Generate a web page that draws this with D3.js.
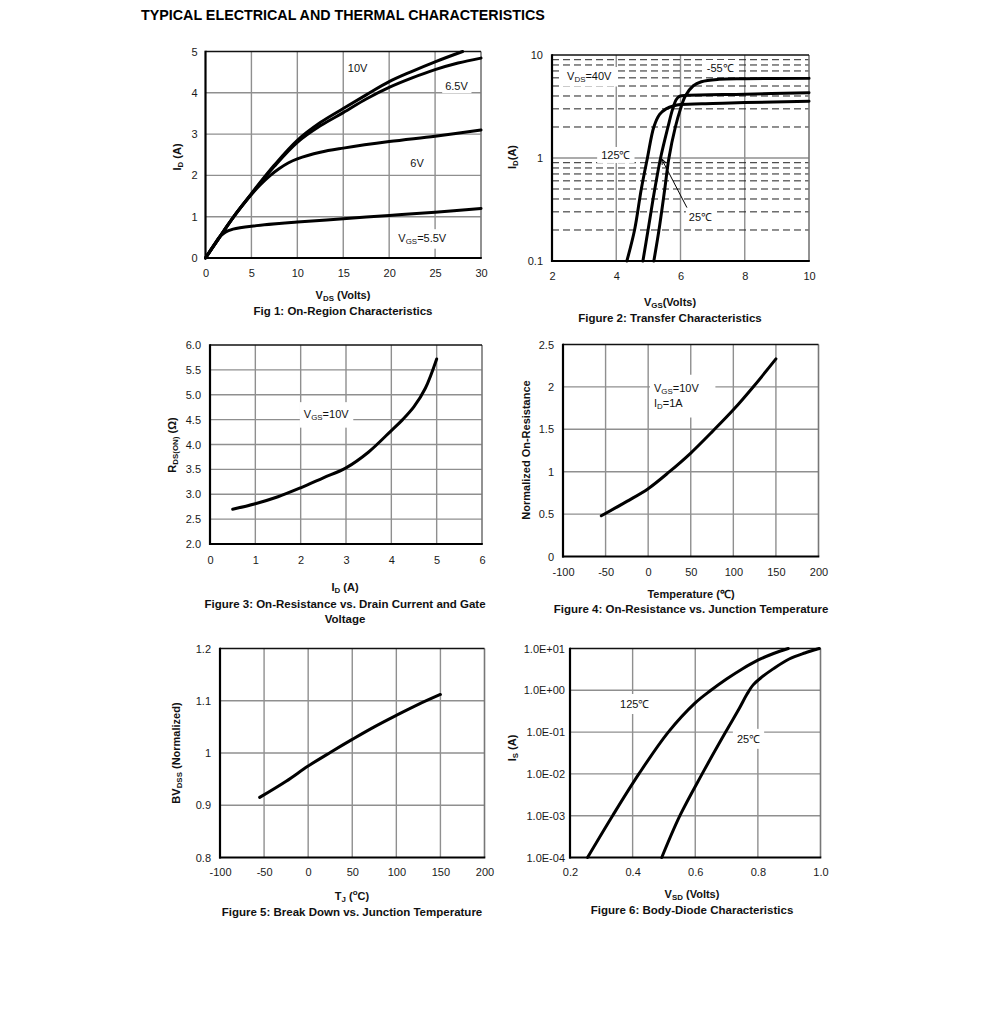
<!DOCTYPE html>
<html><head><meta charset="utf-8">
<script src="https://cdn.jsdelivr.net/npm/d3@7"></script>
<style>body{margin:0;background:#fff}svg{display:block}text{font-family:"Liberation Sans",Arial,Helvetica,sans-serif}</style>
</head><body>
<script>
// ---------- DATA ----------
// Fig 1: On-Region Characteristics  [VDS, ID]
const fig1Vgs10  = [[0,0],[1,0.33],[2,0.66],[3,0.98],[5,1.56],[7.5,2.25],[10,2.85],[12.5,3.28],[15,3.62],[17.5,3.95],[20,4.27],[22.5,4.52],[25,4.75],[28,5.0]];
const fig1Vgs6_5 = [[0,0],[1,0.33],[2,0.66],[3,0.98],[5,1.55],[7.5,2.22],[10,2.8],[12.5,3.2],[15,3.52],[17.5,3.85],[20,4.13],[22.5,4.36],[25,4.56],[27.5,4.72],[30,4.84]];
const fig1Vgs6   = [[0,0],[1,0.33],[2,0.66],[3,0.98],[4,1.27],[5,1.54],[6,1.78],[7,1.99],[8,2.16],[9,2.3],[10,2.4],[12.5,2.56],[15,2.66],[20,2.82],[25,2.95],[30,3.1]];
const fig1Vgs5_5 = [[0,0],[0.5,0.17],[1,0.34],[1.5,0.5],[2,0.6],[2.5,0.66],[3,0.7],[5,0.77],[10,0.87],[15,0.95],[20,1.03],[25,1.11],[30,1.2]];
const fig1XTicks = [0,5,10,15,20,25,30];
const fig1YTicks = [0,1,2,3,4,5];

// Fig 2: Transfer Characteristics  [VGS, ID]
const fig2T125 = [[4.33,0.1],[4.57,0.2],[4.78,0.5],[4.97,1.0],[5.17,2.0],[5.35,2.65],[5.55,3.0],[5.8,3.22],[6,3.3],[7,3.38],[8,3.45],[10,3.56]];
const fig2T25  = [[4.83,0.1],[4.99,0.2],[5.2,0.5],[5.38,1.0],[5.61,2.0],[5.75,2.95],[5.87,3.7],[5.98,3.98],[6.2,4.06],[8,4.17],[10,4.3]];
const fig2Tm55 = [[5.17,0.1],[5.33,0.2],[5.51,0.5],[5.64,1.0],[5.84,2.0],[6.0,3.0],[6.15,4.0],[6.39,5.0],[6.65,5.5],[7.2,5.8],[8,5.88],[10,5.93]];
const fig2XTicks = [2,4,6,8,10];
const fig2YTicks = [0.1,1,10];
const fig2Minor  = [0.2,0.3,0.4,0.5,0.6,0.7,0.8,0.9,2,3,4,5,6,7,8,9];

// Fig 3: RDS(ON) vs ID  [ID, R]
const fig3Id = [0.5,1,1.5,2,2.5,3,3.5,4,4.25,4.5,4.75,5];
const fig3R  = [2.70,2.81,2.95,3.13,3.33,3.53,3.85,4.28,4.5,4.76,5.13,5.72];
const fig3XTicks = [0,1,2,3,4,5,6];
const fig3YTicks = [2.0,2.5,3.0,3.5,4.0,4.5,5.0,5.5,6.0];

// Fig 4: Normalized On-Resistance vs Temperature
const fig4T = [-55,-25,0,25,50,75,100,125,150];
const fig4R = [0.48,0.65,0.8,1.0,1.22,1.47,1.73,2.02,2.33];
const fig4XTicks = [-100,-50,0,50,100,150,200];
const fig4YTicks = [0,0.5,1,1.5,2,2.5];

// Fig 5: Breakdown vs Junction Temperature
const fig5T  = [-55,-25,0,25,50,75,100,125,150];
const fig5BV = [0.915,0.946,0.975,1.001,1.026,1.05,1.072,1.093,1.112];
const fig5XTicks = [-100,-50,0,50,100,150,200];
const fig5YTicks = [0.8,0.9,1,1.1,1.2];

// Fig 6: Body-Diode Characteristics  [VSD, IS]
const fig6T125 = [[0.256,1e-4],[0.336,1e-3],[0.42,1e-2],[0.514,1e-1],[0.6,0.5],[0.65,1],[0.7,1.86],[0.75,3.24],[0.8,5.25],[0.85,7.6],[0.897,10]];
const fig6T25  = [[0.493,1e-4],[0.551,1e-3],[0.622,1e-2],[0.697,1e-1],[0.74,0.36],[0.765,0.8],[0.785,1.35],[0.81,2.0],[0.85,3.3],[0.9,5.6],[0.95,7.8],[0.996,10]];
const fig6XTicks = [0.2,0.4,0.6,0.8,1.0];
const fig6YTicks = [1e-4,1e-3,1e-2,1e-1,1,10];
const fig6YLabels = ["1.0E-04","1.0E-03","1.0E-02","1.0E-01","1.0E+00","1.0E+01"];

// ---------- DRAWING ----------
const svg = d3.select("body").append("svg").attr("width",991).attr("height",1023);
const GRID = "#8f8f8f";

function rich(g, x, y, parts, o={}) {
  const size = o.size || 11;
  const t = g.append("text").attr("x",x).attr("y",y)
    .attr("text-anchor", o.anchor || "middle")
    .attr("dominant-baseline","central")
    .attr("font-size", size).attr("fill", o.fill || "#111");
  if (o.bold) t.attr("font-weight","bold");
  if (o.rotate) t.attr("transform", `rotate(-90,${x},${y})`);
  let shift = 0;
  parts.forEach(p => {
    const [s,k] = Array.isArray(p) ? p : [p,null];
    const target = k==="sub" ? 3 : k==="sup" ? -4 : 0;
    const ts = t.append("tspan").text(s).attr("dy", target - shift);
    if (k) ts.attr("font-size", size*0.72);
    shift = target;
  });
  return t;
}
function boxed(g, x, y, parts, o={}) {
  const t = rich(g, x, y, parts, Object.assign({anchor:"start"}, o));
  const b = t.node().getBBox();
  const pad = o.pad || [4,2];
  g.insert("rect", () => t.node())
    .attr("x", b.x - pad[0]).attr("y", b.y - pad[1])
    .attr("width", b.width + 2*pad[0]).attr("height", b.height + 2*pad[1])
    .attr("fill","#fff");
  return t;
}

function panel(c) {
  const g = svg.append("g");
  const x = d3.scaleLinear().domain(c.xd).range([c.x0, c.x1]);
  const y = (c.log ? d3.scaleLog() : d3.scaleLinear()).domain(c.yd).range([c.y1, c.y0]);
  g.selectAll(".gx").data(c.gridX).join("line")
    .attr("x1", d=>x(d)).attr("x2", d=>x(d)).attr("y1", c.y0).attr("y2", c.y1)
    .attr("stroke", GRID).attr("stroke-width", 1.4);
  g.selectAll(".gy").data(c.gridY).join("line")
    .attr("y1", d=>y(d)).attr("y2", d=>y(d)).attr("x1", c.x0).attr("x2", c.x1)
    .attr("stroke", GRID).attr("stroke-width", 1.4);
  if (c.dashY) g.selectAll(".dy").data(c.dashY).join("line")
    .attr("y1", d=>y(d)).attr("y2", d=>y(d)).attr("x1", c.x0).attr("x2", c.x1)
    .attr("stroke", "#222").attr("stroke-width", 1).attr("stroke-dasharray","7,4");
  g.append("line").attr("x1",c.x1).attr("x2",c.x1).attr("y1",c.y0).attr("y2",c.y1).attr("stroke","#777").attr("stroke-width",1.6);
  g.append("line").attr("x1",c.x0).attr("x2",c.x1).attr("y1",c.y0).attr("y2",c.y0).attr("stroke","#111").attr("stroke-width",1.6);
  g.append("line").attr("x1",c.x0).attr("x2",c.x0).attr("y1",c.y0-0.8).attr("y2",c.y1+1).attr("stroke","#000").attr("stroke-width",2.2);
  g.append("line").attr("x1",c.x0-1).attr("x2",c.x1+0.8).attr("y1",c.y1).attr("y2",c.y1).attr("stroke","#000").attr("stroke-width",2.2);
  const ax = g.append("g").attr("transform",`translate(0,${c.y1})`)
    .call(d3.axisBottom(x).tickValues(c.xTicks).tickSize(0).tickPadding(c.xPad||11).tickFormat(c.xFmt || (d=>d)));
  const ay = g.append("g").attr("transform",`translate(${c.x0},0)`)
    .call(d3.axisLeft(y).tickValues(c.yTicks).tickSize(0).tickPadding(c.yPad||8).tickFormat(c.yFmt || (d=>d)));
  [ax, ay].forEach(a => {
    a.select(".domain").remove();
    a.selectAll("text").attr("font-size",11).attr("fill","#1a1a1a")
      .attr("font-family",'"Liberation Sans",Arial,sans-serif');
  });
  return {g, x, y};
}

function curve(p, data, w=3) {
  p.g.append("path").datum(data)
    .attr("d", d3.line().x(d=>p.x(d[0])).y(d=>p.y(d[1])).curve(d3.curveCatmullRom.alpha(0.5)))
    .attr("fill","none").attr("stroke","#000").attr("stroke-width",w)
    .attr("stroke-linecap","round").attr("stroke-linejoin","round");
}

const CAP = 11.5;
rich(svg, 141, 15, ["TYPICAL ELECTRICAL AND THERMAL CHARACTERISTICS"], {anchor:"start", bold:true, size:14.3, fill:"#000"});

// ---- Fig 1 ----
{
  const p = panel({x0:205.5,x1:481,y0:51.5,y1:258,xd:[0,30],yd:[0,5],
    gridX:[5,10,15,20,25], gridY:[1,2,3,4], xTicks:fig1XTicks, yTicks:fig1YTicks, yPad:8, xPad:11});
  boxed(p.g, p.x(15.5), p.y(4.6), ["10V"], {pad:[3,1]});
  boxed(p.g, p.x(26.1), p.y(4.16), ["6.5V"], {pad:[3,1]});
  boxed(p.g, p.x(22.3), p.y(2.3), ["6V"], {pad:[3,1]});
  boxed(p.g, p.x(21), p.y(0.48), ["V",["GS","sub"],"=5.5V"], {pad:[4,3]});
  curve(p, fig1Vgs5_5); curve(p, fig1Vgs6); curve(p, fig1Vgs6_5); curve(p, fig1Vgs10);
  rich(svg, 343, 295, ["V",["DS","sub"]," (Volts)"], {bold:true});
  rich(svg, 343, 311, ["Fig 1: On-Region Characteristics"], {bold:true, size:CAP});
  rich(svg, 177, 157, ["I",["D","sub"]," (A)"], {bold:true, rotate:true});
}

// ---- Fig 2 ----
{
  const p = panel({x0:552,x1:809,y0:55,y1:261,xd:[2,10],yd:[0.1,10],log:true,
    gridX:[4,6,8], gridY:[1], dashY:fig2Minor, xTicks:fig2XTicks, yTicks:fig2YTicks, yPad:9, xPad:11,
    yFmt:d=>String(d)});
  boxed(p.g, p.x(6.82), p.y(7.48), ["-55℃"], {pad:[4,2]});
  boxed(p.g, p.x(2.47), p.y(6.25), ["V",["DS","sub"],"=40V"], {pad:[5,3]});
  boxed(p.g, p.x(3.53), p.y(1.07), ["125℃"], {pad:[4,2]});
  boxed(p.g, p.x(6.26), p.y(0.27), ["25℃"], {pad:[3,2]});
  svg.append("defs").append("marker").attr("id","ah").attr("viewBox","0 0 10 10")
    .attr("refX",9).attr("refY",5).attr("markerWidth",6).attr("markerHeight",6).attr("orient","auto")
    .append("path").attr("d","M0,1L10,5L0,9").attr("fill","none").attr("stroke","#000").attr("stroke-width",1.5);
  p.g.append("line").attr("x1",p.x(6.2)).attr("y1",p.y(0.33)).attr("x2",p.x(5.42)).attr("y2",p.y(0.97))
    .attr("stroke","#000").attr("stroke-width",1).attr("marker-end","url(#ah)");
  curve(p, fig2T125); curve(p, fig2T25); curve(p, fig2Tm55);
  rich(svg, 670, 302, ["V",["GS","sub"],"(Volts)"], {bold:true});
  rich(svg, 670, 318, ["Figure 2: Transfer Characteristics"], {bold:true, size:CAP});
  rich(svg, 512, 157, ["I",["D","sub"],"(A)"], {bold:true, rotate:true});
}

// ---- Fig 3 ----
{
  const p = panel({x0:210,x1:482,y0:345,y1:544,xd:[0,6],yd:[2,6],
    gridX:[1,2,3,4,5], gridY:[2.5,3,3.5,4,4.5,5,5.5], xTicks:fig3XTicks, yTicks:fig3YTicks, yPad:9, xPad:12,
    yFmt:d3.format(".1f")});
  boxed(p.g, p.x(2.07), p.y(4.61), ["V",["GS","sub"],"=10V"], {pad:[4,6]});
  curve(p, fig3Id.map((d,i)=>[d, fig3R[i]]));
  rich(svg, 345, 587, ["I",["D","sub"]," (A)"], {bold:true});
  rich(svg, 345, 604, ["Figure 3: On-Resistance vs. Drain Current and Gate"], {bold:true, size:CAP});
  rich(svg, 345, 619, ["Voltage"], {bold:true, size:CAP});
  rich(svg, 172, 445, ["R",["DS(ON)","sub"]," (Ω)"], {bold:true, rotate:true});
}

// ---- Fig 4 ----
{
  const p = panel({x0:563,x1:818.5,y0:344.5,y1:556.5,xd:[-100,200],yd:[0,2.5],
    gridX:[-50,0,50,100,150], gridY:[0.5,1,1.5,2], xTicks:fig4XTicks, yTicks:fig4YTicks, yPad:9, xPad:12});
  const bg = p.g.append("rect").attr("fill","#fff");
  const t1 = rich(p.g, p.x(6.8), p.y(1.99), ["V",["GS","sub"],"=10V"], {anchor:"start"});
  const t2 = rich(p.g, p.x(6.8), p.y(1.81), ["I",["D","sub"],"=1A"], {anchor:"start"});
  const b1 = t1.node().getBBox(), b2 = t2.node().getBBox();
  bg.attr("x", b1.x-4).attr("y", b1.y-7).attr("width", b1.width+20).attr("height", b2.y+b2.height-b1.y+14);
  curve(p, fig4T.map((d,i)=>[d, fig4R[i]]));
  rich(svg, 691, 594, ["Temperature (℃)"], {bold:true});
  rich(svg, 691, 609, ["Figure 4: On-Resistance vs. Junction Temperature"], {bold:true, size:CAP});
  rich(svg, 526, 450, ["Normalized On-Resistance"], {bold:true, rotate:true});
}

// ---- Fig 5 ----
{
  const p = panel({x0:220,x1:484.5,y0:648.5,y1:857.5,xd:[-100,200],yd:[0.8,1.2],
    gridX:[-50,0,50,100,150], gridY:[0.9,1,1.1], xTicks:fig5XTicks, yTicks:fig5YTicks, yPad:9, xPad:11});
  curve(p, fig5T.map((d,i)=>[d, fig5BV[i]]));
  rich(svg, 352, 896, ["T",["J","sub"]," (",["o","sup"],"C)"], {bold:true});
  rich(svg, 352, 912, ["Figure 5: Break Down vs. Junction Temperature"], {bold:true, size:CAP});
  rich(svg, 176, 753, ["BV",["DSS","sub"]," (Normalized)"], {bold:true, rotate:true});
}

// ---- Fig 6 ----
{
  const p = panel({x0:570,x1:820.5,y0:648.5,y1:857.5,xd:[0.2,1.0],yd:[1e-4,10],log:true,
    gridX:[0.4,0.6,0.8], gridY:[1e-3,1e-2,1e-1,1], xTicks:fig6XTicks, yTicks:fig6YTicks, yPad:5, xPad:11,
    xFmt:d3.format(".1f"), yFmt:(d,i)=>fig6YLabels[i]});
  boxed(p.g, p.x(0.36), p.y(0.47), ["125℃"], {pad:[4,4]});
  boxed(p.g, p.x(0.733), p.y(0.069), ["25℃"], {pad:[4,4]});
  curve(p, fig6T125); curve(p, fig6T25);
  rich(svg, 692, 894, ["V",["SD","sub"]," (Volts)"], {bold:true});
  rich(svg, 692, 910, ["Figure 6: Body-Diode Characteristics"], {bold:true, size:CAP});
  rich(svg, 512, 748, ["I",["S","sub"]," (A)"], {bold:true, rotate:true});
}
</script>
</body></html>
